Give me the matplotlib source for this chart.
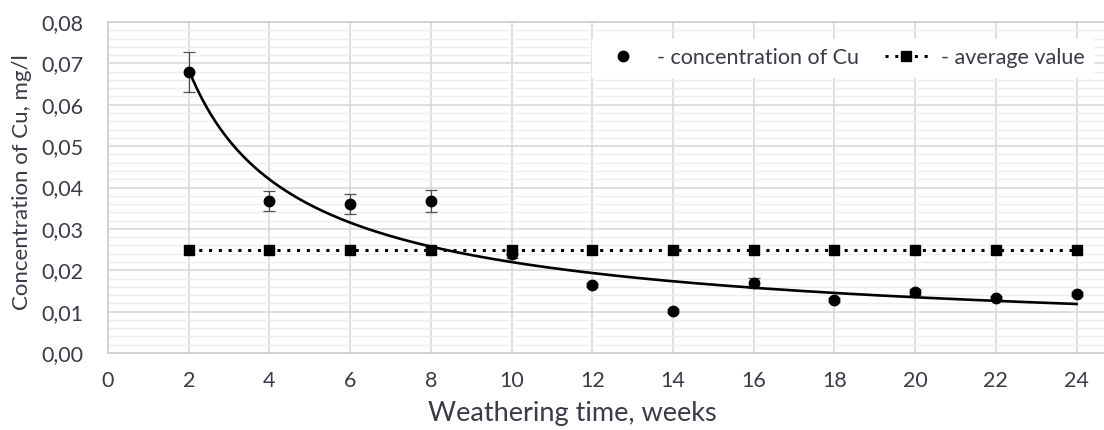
import numpy as np
import matplotlib
matplotlib.use("Agg")
import matplotlib.pyplot as plt
from matplotlib.ticker import MultipleLocator, FuncFormatter
from matplotlib.lines import Line2D

plt.rcParams['font.family'] = ['Lato', 'DejaVu Sans']

weeks = [2, 4, 6, 8, 10, 12, 14, 16, 18, 20, 22, 24]
cu = [0.0680, 0.0367, 0.0360, 0.0367, 0.0239, 0.0164, 0.0101, 0.0169, 0.0128, 0.0147, 0.0133, 0.0143]
cu_err = [0.0048, 0.0025, 0.0025, 0.0027, 0.0010, 0.0005, 0.0005, 0.0012, 0.0005, 0.0008, 0.0005, 0.0005]
average = [0.025] * len(weeks)

text_col = '#3a3a48'
grid_col = '#d9d9d9'

# power trend line (least squares on log-log, like Excel)
b, ln_a = np.polyfit(np.log(weeks), np.log(cu), 1)
xt = np.linspace(weeks[0], weeks[-1], 200)
yt = np.exp(ln_a) * xt ** b

fig = plt.figure(figsize=(11.04, 4.30), dpi=100)
ax = fig.add_axes([108 / 1104, 77 / 430, 1 - 108 / 1104, 331 / 430])

ax.errorbar(weeks, cu, yerr=cu_err, fmt='none', ecolor='#505050',
            elinewidth=0.9, capsize=4, capthick=0.9, zorder=3)
ax.plot(weeks, cu, 'o', color='black', markersize=7.5, zorder=4)
ax.plot(xt, yt, '-', color='black', lw=1.9, zorder=3)
ax.plot(weeks, average, color='black', ls=(0, (1, 2.2)), lw=2.2,
        marker='s', markersize=7.5, zorder=4)

ax.set_xlim(0, (1104 - 109.4) / 40.3)
ax.set_ylim(0, 0.08)
ax.xaxis.set_major_locator(MultipleLocator(2))
ax.yaxis.set_major_locator(MultipleLocator(0.01))
ax.yaxis.set_minor_locator(MultipleLocator(0.002))
ax.yaxis.set_major_formatter(FuncFormatter(lambda v, p: f"{v:.2f}".replace('.', ',')))
ax.xaxis.set_major_formatter(FuncFormatter(lambda v, p: f"{v:.0f}"))

ax.grid(which='major', color=grid_col, lw=1.2, zorder=0)
ax.grid(which='minor', axis='y', color='#eeeeee', lw=1.0, zorder=0)
ax.set_axisbelow(True)

for s in ['left', 'top', 'bottom']:
    ax.spines[s].set_color('#cccccc')
    ax.spines[s].set_linewidth(1.2)
ax.spines['right'].set_visible(False)

ax.tick_params(which='both', length=0, labelsize=15.5, colors=text_col)
ax.tick_params(axis='x', pad=13)
ax.tick_params(axis='y', pad=18)

ax.set_xlabel('Weathering time, weeks', fontsize=19.5, color=text_col)
ax.xaxis.set_label_coords((572 - 108) / 996, (353 - 401) / 331)
ax.set_ylabel('Concentration of Cu, mg/l', fontsize=16, color=text_col)
ax.yaxis.set_label_coords((32 - 108) / 996, (353 - 182) / 331)

handles = [
    Line2D([], [], ls='none', marker='o', color='black', markersize=7.5),
    Line2D([], [], color='black', ls=(0, (1, 2.2)), lw=2.2, marker='s', markersize=7.5),
]
leg = ax.legend(handles, ['- concentration of Cu', '- average value'], ncol=2,
                loc='upper right', bbox_to_anchor=(1.0, 0.98), frameon=True,
                fontsize=15.5, handlelength=2.0, handletextpad=0.6, columnspacing=1.2,
                borderpad=0.4, fancybox=False)
leg.get_frame().set_edgecolor('white')
leg.get_frame().set_facecolor('white')
leg.get_frame().set_alpha(1)
for t in leg.get_texts():
    t.set_color(text_col)

fig.savefig('out.png', dpi=100)
